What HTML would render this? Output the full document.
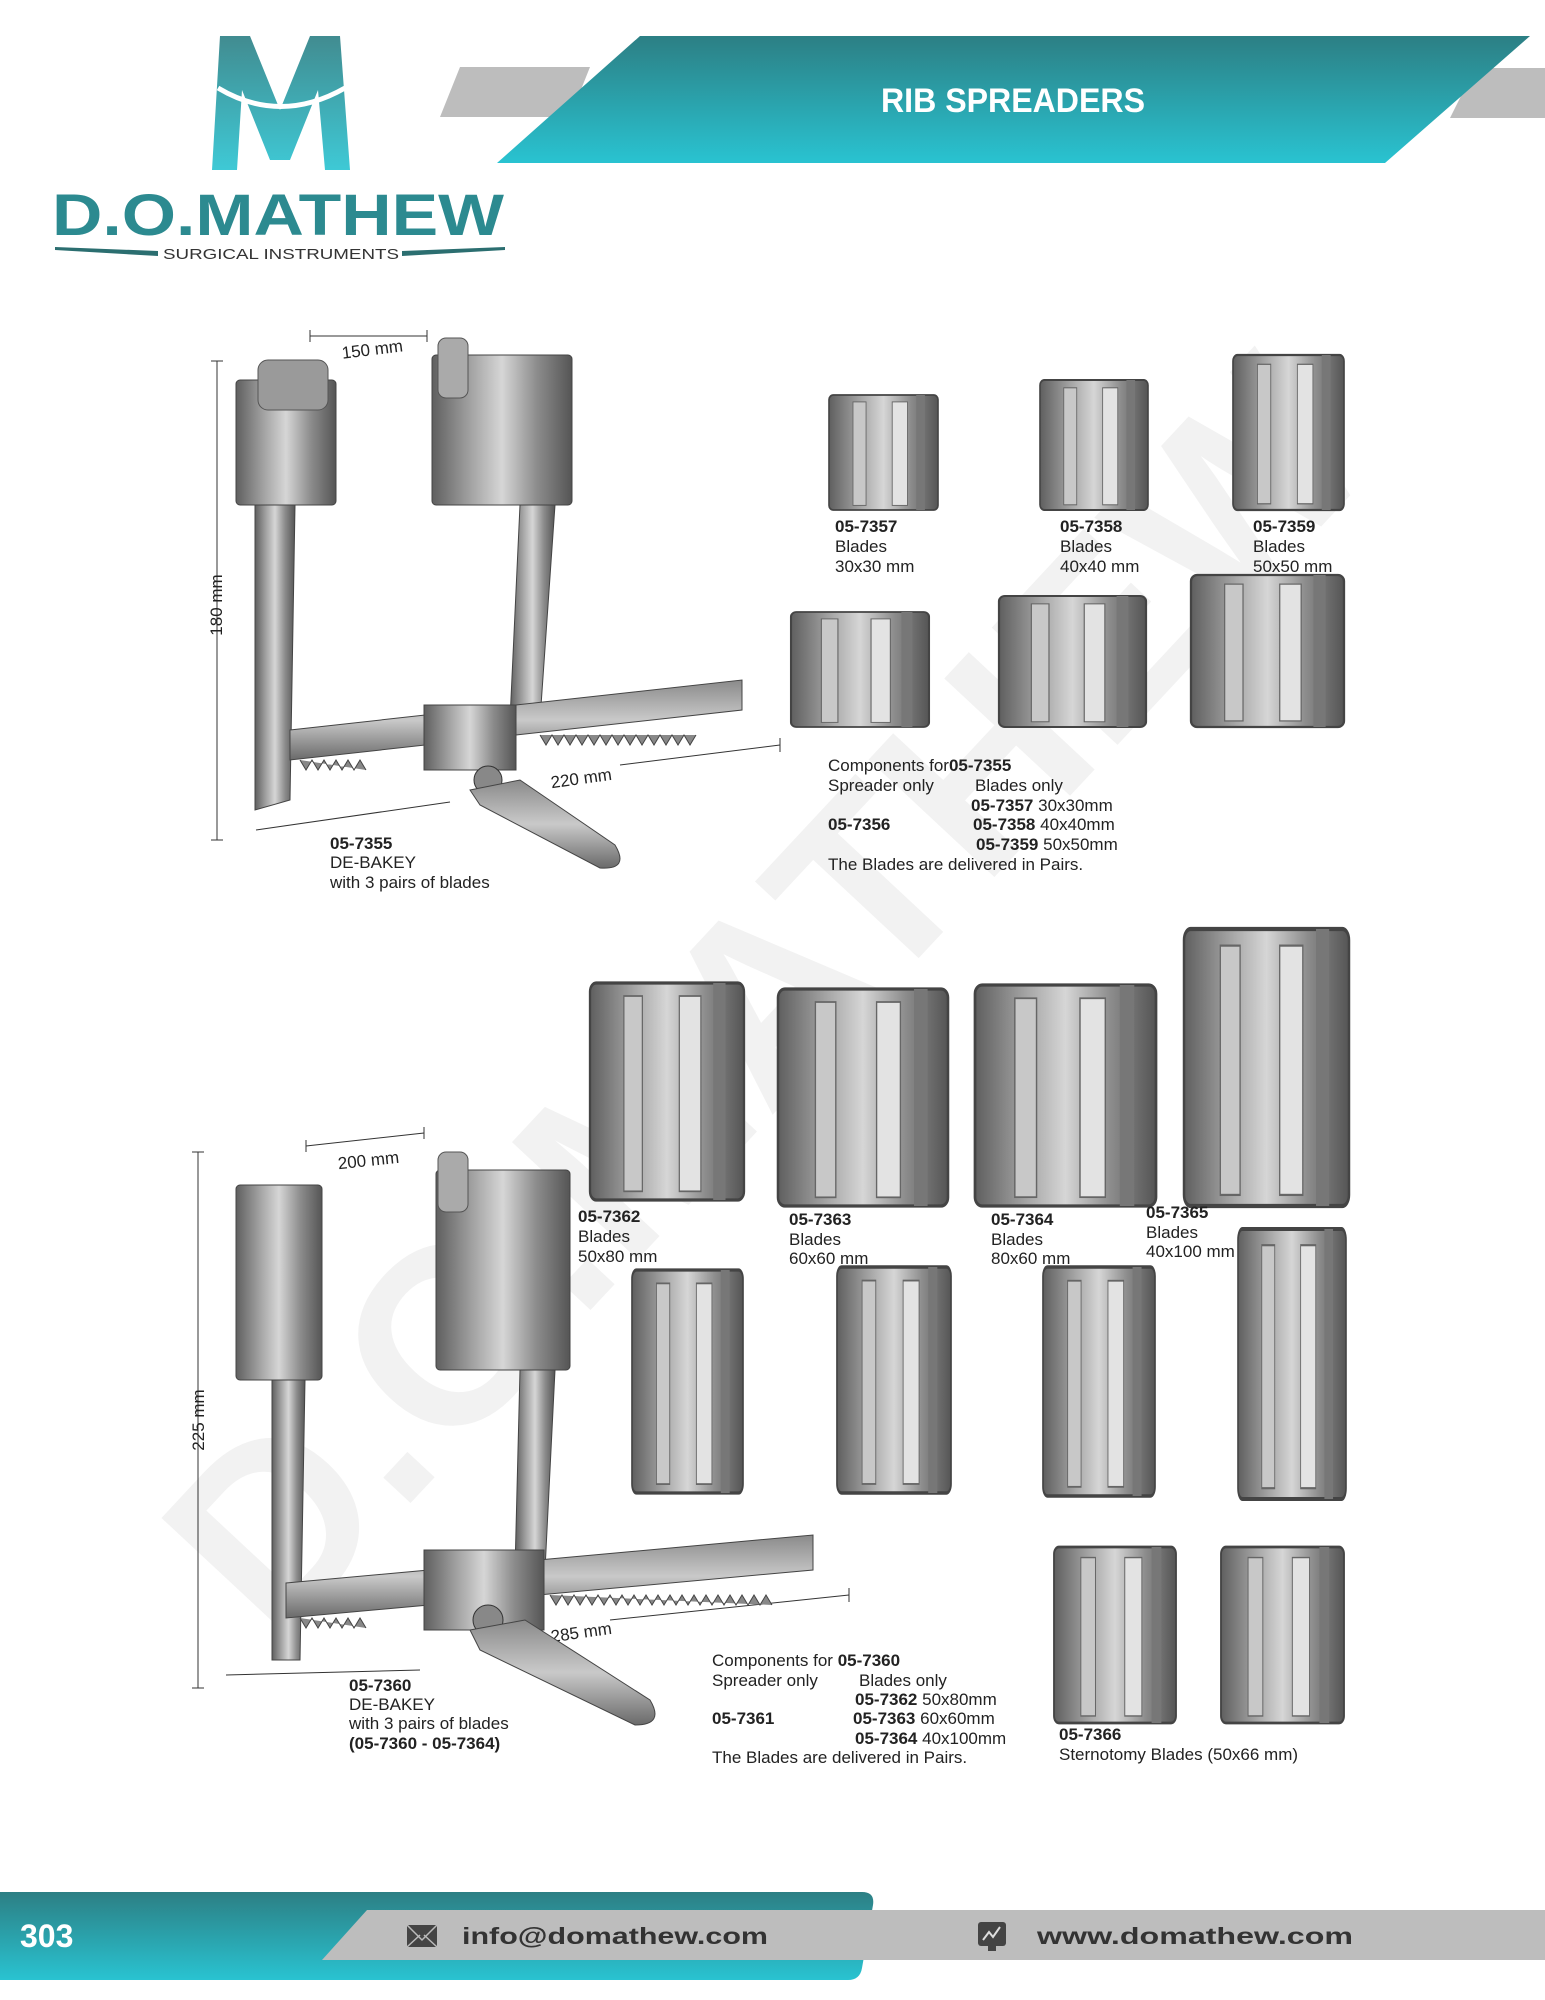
<!DOCTYPE html>
<html><head><meta charset="utf-8"><style>
body{margin:0;background:#fff}
svg{display:block}
text{font-family:"Liberation Sans",Arial,sans-serif}
</style></head><body>
<svg width="1545" height="2000" viewBox="0 0 1545 2000" xmlns="http://www.w3.org/2000/svg">
<defs>
<linearGradient id="teal" x1="0" y1="0" x2="0" y2="1"><stop offset="0" stop-color="#2c7f84"/><stop offset="1" stop-color="#29c3d1"/></linearGradient>
<linearGradient id="metal" x1="0" y1="0" x2="1" y2="0"><stop offset="0" stop-color="#5f5f5f"/><stop offset="0.3" stop-color="#a8a8a8"/><stop offset="0.5" stop-color="#d6d6d6"/><stop offset="0.75" stop-color="#8c8c8c"/><stop offset="1" stop-color="#555"/></linearGradient>
<linearGradient id="metalv" x1="0" y1="0" x2="0" y2="1"><stop offset="0" stop-color="#8a8a8a"/><stop offset="0.5" stop-color="#c9c9c9"/><stop offset="1" stop-color="#6a6a6a"/></linearGradient>
<g id="bl">
<rect x="0" y="0" width="100" height="100" fill="url(#metal)" stroke="#444" stroke-width="1.5" rx="4"/>
<rect x="22" y="6" width="12" height="90" fill="#c8c8c8" stroke="#666" stroke-width="0.8"/>
<rect x="58" y="6" width="14" height="90" fill="#e3e3e3" stroke="#666" stroke-width="0.8"/>
<rect x="80" y="0" width="8" height="100" fill="#777"/>
</g>
</defs>

<text x="0" y="0" transform="translate(780,1010) rotate(-47)" text-anchor="middle" font-size="250" font-weight="bold" fill="#f2f2f2" dominant-baseline="middle">D.O.MATHEW</text>

<polygon points="460,67 590,67 570,117 440,117" fill="#bdbdbd"/>
<polygon points="1475,68 1545,68 1545,118 1450,118" fill="#bdbdbd"/>
<polygon points="640,36 1530,36 1385,163 497,163" fill="url(#teal)"/>
<text x="1013" y="112" text-anchor="middle" font-size="34" font-weight="bold" fill="#fff" textLength="264" lengthAdjust="spacingAndGlyphs">RIB SPREADERS</text>

<path d="M220 36 L250 36 L280 110 L310 36 L340 36 L350 170 L325 170 L318 90 L290 160 L270 160 L242 90 L237 170 L212 170 Z" fill="url(#teal)" opacity="0.9"/>
<path d="M218 88 Q280 125 345 88" stroke="#fff" stroke-width="5" fill="none"/>
<text x="52" y="235" font-size="58" font-weight="bold" fill="#2c8a90" textLength="452" lengthAdjust="spacingAndGlyphs">D.O.MATHEW</text>
<polygon points="55,247 158,251 158,256 55,250" fill="#2b6e70"/>
<polygon points="402,251 505,247 505,250 402,256" fill="#2b6e70"/>
<text x="163" y="259" font-size="15" fill="#333" textLength="236" lengthAdjust="spacingAndGlyphs">SURGICAL INSTRUMENTS</text>

<g stroke="#333" stroke-width="1">
<line x1="310" y1="336" x2="427" y2="336"/><line x1="310" y1="330" x2="310" y2="342"/><line x1="427" y1="330" x2="427" y2="342"/>
<line x1="217" y1="361" x2="217" y2="840"/><line x1="211" y1="361" x2="223" y2="361"/><line x1="211" y1="840" x2="223" y2="840"/>
<line x1="256" y1="830" x2="450" y2="802"/><line x1="620" y1="765" x2="780" y2="745"/><line x1="780" y1="738" x2="780" y2="752"/>
</g>
<text x="373" y="355" font-size="17" fill="#222" transform="rotate(-7 373 355)" text-anchor="middle">150 mm</text>
<text x="222" y="605" font-size="17" fill="#222" transform="rotate(-90 222 605)" text-anchor="middle">180 mm</text>
<text x="582" y="784" font-size="17" fill="#222" transform="rotate(-8 582 784)" text-anchor="middle">220 mm</text>
<polygon points="255,505 295,505 290,800 255,810" fill="url(#metal)" stroke="#444"/>
<polygon points="520,505 555,505 540,720 510,720" fill="url(#metal)" stroke="#444"/>
<rect x="236" y="380" width="100" height="125" fill="url(#metal)" stroke="#444" rx="4"/>
<rect x="258" y="360" width="70" height="50" fill="#9a9a9a" stroke="#555" rx="10"/>
<rect x="432" y="355" width="140" height="150" fill="url(#metal)" stroke="#444" rx="4"/>
<rect x="438" y="338" width="30" height="60" fill="#aaa" stroke="#555" rx="8"/>
<polygon points="290,730 742,680 742,710 290,760" fill="url(#metalv)" stroke="#444"/>
<path d="M300 760 l6 10 l6 -10 l6 10 l6 -10 l6 10 l6 -10 l6 10 l6 -10 l6 10 l6 -10 l6 10 M540 735 l6 10 l6 -10 l6 10 l6 -10 l6 10 l6 -10 l6 10 l6 -10 l6 10 l6 -10 l6 10 l6 -10 l6 10 l6 -10 l6 10 l6 -10 l6 10 l6 -10 l6 10 l6 -10 l6 10 l6 -10 l6 10 l6 -10 l6 10 l6 -10" stroke="#444" fill="#888"/>
<rect x="424" y="705" width="92" height="65" fill="url(#metal)" stroke="#444"/>
<circle cx="488" cy="780" r="14" fill="#888" stroke="#333"/>
<path d="M470 790 L520 780 L615 845 Q630 870 600 868 L480 805 Z" fill="url(#metalv)" stroke="#444"/>
<text font-size="17" fill="#222"><tspan x="330" y="849" font-weight="bold">05-7355</tspan><tspan x="330" y="868">DE-BAKEY</tspan><tspan x="330" y="888">with 3 pairs of blades</tspan></text>

<use href="#bl" transform="translate(829,395) scale(1.09,1.15)"/>
<use href="#bl" transform="translate(1040,380) scale(1.08,1.3)"/>
<use href="#bl" transform="translate(1233,355) scale(1.11,1.55)"/>
<use href="#bl" transform="translate(791,612) scale(1.38,1.15)"/>
<use href="#bl" transform="translate(999,596) scale(1.47,1.31)"/>
<use href="#bl" transform="translate(1191,575) scale(1.53,1.52)"/>
<g font-size="17" fill="#222">
<text><tspan x="835" y="532" font-weight="bold">05-7357</tspan><tspan x="835" y="552">Blades</tspan><tspan x="835" y="572">30x30 mm</tspan></text>
<text><tspan x="1060" y="532" font-weight="bold">05-7358</tspan><tspan x="1060" y="552">Blades</tspan><tspan x="1060" y="572">40x40 mm</tspan></text>
<text><tspan x="1253" y="532" font-weight="bold">05-7359</tspan><tspan x="1253" y="552">Blades</tspan><tspan x="1253" y="572">50x50 mm</tspan></text>
<text x="828" y="771">Components for<tspan font-weight="bold">05-7355</tspan></text>
<text x="828" y="791">Spreader only</text><text x="975" y="791">Blades only</text>
<text x="971" y="811"><tspan font-weight="bold">05-7357</tspan>  30x30mm</text>
<text x="828" y="830" font-weight="bold">05-7356</text>
<text x="973" y="830"><tspan font-weight="bold">05-7358</tspan>  40x40mm</text>
<text x="976" y="850"><tspan font-weight="bold">05-7359</tspan> 50x50mm</text>
<text x="828" y="870">The Blades are delivered in Pairs.</text>
</g>

<g stroke="#333" stroke-width="1">
<line x1="306" y1="1146" x2="424" y2="1133"/><line x1="306" y1="1140" x2="306" y2="1152"/><line x1="424" y1="1127" x2="424" y2="1139"/>
<line x1="198" y1="1152" x2="198" y2="1688"/><line x1="192" y1="1152" x2="204" y2="1152"/><line x1="192" y1="1688" x2="204" y2="1688"/>
<line x1="226" y1="1675" x2="420" y2="1670"/><line x1="610" y1="1620" x2="849" y2="1595"/><line x1="849" y1="1588" x2="849" y2="1602"/>
</g>
<text x="369" y="1166" font-size="17" fill="#222" transform="rotate(-6 369 1166)" text-anchor="middle">200 mm</text>
<text x="204" y="1420" font-size="17" fill="#222" transform="rotate(-90 204 1420)" text-anchor="middle">225 mm</text>
<text x="582" y="1638" font-size="17" fill="#222" transform="rotate(-8 582 1638)" text-anchor="middle">285 mm</text>
<polygon points="272,1380 305,1380 300,1660 272,1660" fill="url(#metal)" stroke="#444"/>
<polygon points="520,1370 555,1370 545,1570 515,1570" fill="url(#metal)" stroke="#444"/>
<rect x="236" y="1185" width="86" height="195" fill="url(#metal)" stroke="#444" rx="4"/>
<rect x="436" y="1170" width="134" height="200" fill="url(#metal)" stroke="#444" rx="4"/>
<rect x="438" y="1152" width="30" height="60" fill="#aaa" stroke="#555" rx="8"/>
<polygon points="286,1583 813,1535 813,1570 286,1618" fill="url(#metalv)" stroke="#444"/>
<path d="M300 1618 l6 10 l6 -10 l6 10 l6 -10 l6 10 l6 -10 l6 10 l6 -10 l6 10 l6 -10 l6 10 M550 1595 l6 10 l6 -10 l6 10 l6 -10 l6 10 l6 -10 l6 10 l6 -10 l6 10 l6 -10 l6 10 l6 -10 l6 10 l6 -10 l6 10 l6 -10 l6 10 l6 -10 l6 10 l6 -10 l6 10 l6 -10 l6 10 l6 -10 l6 10 l6 -10 l6 10 l6 -10 l6 10 l6 -10 l6 10 l6 -10 l6 10 l6 -10 l6 10 l6 -10 l6 10" stroke="#444" fill="#888"/>
<rect x="424" y="1550" width="120" height="80" fill="url(#metal)" stroke="#444"/>
<circle cx="488" cy="1620" r="15" fill="#888" stroke="#333"/>
<path d="M470 1630 L525 1620 L650 1700 Q665 1725 635 1725 L480 1650 Z" fill="url(#metalv)" stroke="#444"/>
<text font-size="17" fill="#222"><tspan x="349" y="1691" font-weight="bold">05-7360</tspan><tspan x="349" y="1710">DE-BAKEY</tspan><tspan x="349" y="1729">with 3 pairs of blades</tspan><tspan x="349" y="1749" font-weight="bold">(05-7360 - 05-7364)</tspan></text>

<use href="#bl" transform="translate(590,983) scale(1.54,2.17)"/>
<use href="#bl" transform="translate(778,989) scale(1.7,2.17)"/>
<use href="#bl" transform="translate(975,985) scale(1.81,2.21)"/>
<use href="#bl" transform="translate(1184,929) scale(1.65,2.77)"/>
<use href="#bl" transform="translate(632,1270) scale(1.11,2.23)"/>
<use href="#bl" transform="translate(837,1267) scale(1.14,2.26)"/>
<use href="#bl" transform="translate(1043,1267) scale(1.12,2.29)"/>
<use href="#bl" transform="translate(1238,1229) scale(1.08,2.7)"/>
<use href="#bl" transform="translate(1054,1547) scale(1.22,1.76)"/>
<use href="#bl" transform="translate(1221,1547) scale(1.23,1.76)"/>
<g font-size="17" fill="#222">
<text><tspan x="578" y="1222" font-weight="bold">05-7362</tspan><tspan x="578" y="1242">Blades</tspan><tspan x="578" y="1262">50x80 mm</tspan></text>
<text><tspan x="789" y="1225" font-weight="bold">05-7363</tspan><tspan x="789" y="1245">Blades</tspan><tspan x="789" y="1264">60x60 mm</tspan></text>
<text><tspan x="991" y="1225" font-weight="bold">05-7364</tspan><tspan x="991" y="1245">Blades</tspan><tspan x="991" y="1264">80x60 mm</tspan></text>
<text><tspan x="1146" y="1218" font-weight="bold">05-7365</tspan><tspan x="1146" y="1238">Blades</tspan><tspan x="1146" y="1257">40x100 mm</tspan></text>
<text x="712" y="1666">Components for <tspan font-weight="bold">05-7360</tspan></text>
<text x="712" y="1686">Spreader only</text><text x="859" y="1686">Blades only</text>
<text x="855" y="1705"><tspan font-weight="bold">05-7362</tspan>  50x80mm</text>
<text x="712" y="1724" font-weight="bold">05-7361</text>
<text x="853" y="1724"><tspan font-weight="bold">05-7363</tspan>  60x60mm</text>
<text x="855" y="1744"><tspan font-weight="bold">05-7364</tspan> 40x100mm</text>
<text x="712" y="1763">The Blades are delivered in Pairs.</text>
<text><tspan x="1059" y="1740" font-weight="bold">05-7366</tspan><tspan x="1059" y="1760">Sternotomy Blades (50x66 mm)</tspan></text>
</g>

<path d="M0 1892 L862 1892 Q875 1892 873 1905 L862 1968 Q860 1980 848 1980 L0 1980 Z" fill="url(#teal)"/>
<polygon points="367,1910 1545,1910 1545,1960 322,1960" fill="#bdbdbd"/>
<text x="20" y="1947" font-size="32" font-weight="bold" fill="#fff">303</text>
<rect x="407" y="1925" width="30" height="22" fill="#444"/>
<path d="M407 1925 L422 1940 L437 1925 M407 1947 L420 1935 M437 1947 L424 1935" stroke="#bbb" stroke-width="1.5" fill="none"/>
<text x="462" y="1944" font-size="23" font-weight="bold" fill="#333" textLength="306" lengthAdjust="spacingAndGlyphs">info@domathew.com</text>
<rect x="978" y="1922" width="28" height="24" rx="3" fill="#444"/>
<path d="M983 1940 l6 -8 l4 5 l7 -10" stroke="#ddd" stroke-width="2" fill="none"/>
<rect x="988" y="1946" width="8" height="5" fill="#444"/>
<text x="1037" y="1944" font-size="23" font-weight="bold" fill="#333" textLength="316" lengthAdjust="spacingAndGlyphs">www.domathew.com</text>
</svg>
</body></html>
